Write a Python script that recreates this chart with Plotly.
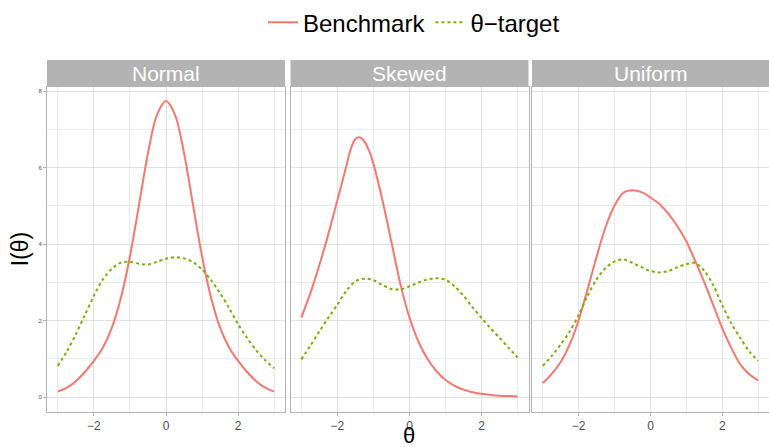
import plotly.graph_objects as go
from plotly.subplots import make_subplots

# ---- data ----
panels = ["Normal", "Skewed", "Uniform"]
theta = [-3.0, -2.75, -2.5, -2.25, -2.0, -1.75, -1.5, -1.25, -1.0, -0.75, -0.5, -0.25,
         0.0, 0.25, 0.5, 0.75, 1.0, 1.25, 1.5, 1.75, 2.0, 2.25, 2.5, 2.75, 3.0]
# the skewed benchmark peak lies between grid points, so it is read more densely there
theta_skewed_bench = [-3.0, -2.75, -2.5, -2.25, -2.0, -1.75, -1.625, -1.5, -1.375, -1.25, -1.125,
                      -1.0, -0.75, -0.5, -0.25, 0.0, 0.25, 0.5, 0.75, 1.0, 1.25, 1.5, 1.75,
                      2.0, 2.25, 2.5, 2.75, 3.0]

benchmark_normal = [0.15, 0.25, 0.42, 0.66, 0.95, 1.30, 1.82, 2.60, 3.68, 5.02, 6.38, 7.38,
                    7.74, 7.38, 6.38, 5.02, 3.68, 2.60, 1.82, 1.30, 0.95, 0.66, 0.42, 0.25, 0.15]
target_normal = [0.82, 1.20, 1.65, 2.15, 2.65, 3.08, 3.36, 3.52, 3.54, 3.49, 3.47, 3.54,
                 3.62, 3.66, 3.63, 3.53, 3.34, 3.06, 2.72, 2.33, 1.91, 1.55, 1.23, 0.97, 0.76]

benchmark_skewed = [2.08, 2.72, 3.45, 4.27, 5.15, 6.05, 6.50, 6.75, 6.79, 6.68, 6.45,
                    6.10, 5.15, 4.05, 2.95, 2.08, 1.45, 1.00, 0.68, 0.45, 0.30, 0.20, 0.13,
                    0.09, 0.06, 0.04, 0.03, 0.02]
target_skewed = [0.99, 1.35, 1.72, 2.08, 2.42, 2.78, 3.03, 3.10, 3.06, 2.93, 2.83, 2.82,
                 2.90, 3.00, 3.08, 3.11, 3.07, 2.90, 2.65, 2.35, 2.07, 1.80, 1.55, 1.29, 1.04]

benchmark_uniform = [0.37, 0.61, 0.92, 1.38, 2.02, 2.83, 3.68, 4.45, 5.01, 5.35, 5.41, 5.36,
                     5.22, 5.05, 4.79, 4.47, 4.07, 3.55, 3.00, 2.40, 1.80, 1.29, 0.86, 0.60, 0.44]
target_uniform = [0.82, 1.08, 1.38, 1.72, 2.15, 2.66, 3.08, 3.38, 3.55, 3.60, 3.51, 3.40,
                  3.30, 3.26, 3.30, 3.40, 3.48, 3.51, 3.30, 2.92, 2.40, 1.93, 1.55, 1.20, 0.95]

benchmark_x = [theta, theta_skewed_bench, theta]
benchmark = [benchmark_normal, benchmark_skewed, benchmark_uniform]
target = [target_normal, target_skewed, target_uniform]

x_ticks = [-2, 0, 2]
y_ticks = [0, 2, 4, 6, 8]

# ---- styling ----
RED = "#F8766D"
GREEN = "#7CAE00"
GREY70 = "#B3B3B3"
FONT = "Liberation Sans, Arial, sans-serif"

W, H = 769, 447
ML, MR, MT, MB = 47, 0, 54, 35
PW = W - ML - MR
PH = H - MT - MB
panel_top = 81
y_top = (H - MB - panel_top) / PH
xdomains = [[0.0, (285 - ML) / PW], [(290.5 - ML) / PW, (528.5 - ML) / PW], [(532 - ML) / PW, 1.0]]

fig = make_subplots(rows=1, cols=3, shared_yaxes=True)

for i in range(3):
    fig.add_trace(go.Scatter(x=benchmark_x[i], y=benchmark[i], mode="lines", name="Benchmark",
                             line=dict(color=RED, width=2, shape="spline", smoothing=0.9),
                             showlegend=(i == 0), legendgroup="b"), row=1, col=i + 1)
    fig.add_trace(go.Scatter(x=theta, y=target[i], mode="lines", name="θ−target",
                             line=dict(color=GREEN, width=2, dash="3px,3px", shape="spline", smoothing=0.9),
                             showlegend=(i == 0), legendgroup="t"), row=1, col=i + 1)

for i in range(3):
    xa = "xaxis" if i == 0 else f"xaxis{i+1}"
    ya = "yaxis" if i == 0 else f"yaxis{i+1}"
    fig.layout[xa].update(
        domain=xdomains[i], range=[-3.3, 3.3], tickvals=x_ticks,
        showgrid=True, gridcolor="#E0E0E0", gridwidth=1,
        minor=dict(tickvals=[-3, -1, 1, 3], showgrid=True, gridcolor="#EBEBEB", gridwidth=1,
                   ticks=""),
        zeroline=False, showline=True, linecolor=GREY70, linewidth=1, mirror=True,
        ticks="outside", ticklen=3, tickcolor=GREY70,
        tickfont=dict(family=FONT, size=12, color="#4D4D4D"),
    )
    fig.layout[ya].update(
        domain=[0, y_top], range=[-0.385, 8.12], tickvals=y_ticks,
        showgrid=True, gridcolor="#E0E0E0", gridwidth=1,
        minor=dict(tickvals=[1, 3, 5, 7], showgrid=True, gridcolor="#EBEBEB", gridwidth=1, ticks=""),
        zeroline=False, showline=True, linecolor=GREY70, linewidth=1, mirror=True,
        ticks="outside" if i == 0 else "", ticklen=3, tickcolor=GREY70,
        showticklabels=(i == 0),
        tickfont=dict(family=FONT, size=6, color="#4D4D4D"),
    )
    # strip
    fig.add_shape(type="rect", xref="paper", yref="paper",
                  x0=xdomains[i][0], x1=xdomains[i][1], y0=y_top, y1=1.0,
                  fillcolor=GREY70, line=dict(width=0), layer="above")
    fig.add_annotation(text=panels[i], xref="paper", yref="paper",
                       x=(xdomains[i][0] + xdomains[i][1]) / 2, y=(y_top + 1.0) / 2,
                       showarrow=False, xanchor="center", yanchor="middle",
                       font=dict(family=FONT, size=21, color="white"))

# axis titles
fig.add_annotation(text="θ", xref="paper", yref="paper", x=(409 - ML) / PW, y=-(436 - (H - MB)) / PH,
                   showarrow=False, xanchor="center", yanchor="middle",
                   font=dict(family=FONT, size=22, color="black"))
fig.add_annotation(text="I(θ)", xref="paper", yref="paper", x=-(ML - 20) / PW, y=0.5 * y_top,
                   showarrow=False, xanchor="center", yanchor="middle", textangle=-90,
                   font=dict(family=FONT, size=23, color="black"))

fig.update_layout(
    width=W, height=H,
    margin=dict(l=ML, r=MR, t=MT, b=MB),
    paper_bgcolor="white", plot_bgcolor="white",
    legend=dict(orientation="h", x=(414 - ML) / PW, xanchor="center",
                y=1 + (MT - 16) / PH, yanchor="middle",
                font=dict(family=FONT, size=24, color="black"),
                itemwidth=30, tracegroupgap=0, bgcolor="rgba(0,0,0,0)"),
    showlegend=True,
)

fig.write_html("out.html")
